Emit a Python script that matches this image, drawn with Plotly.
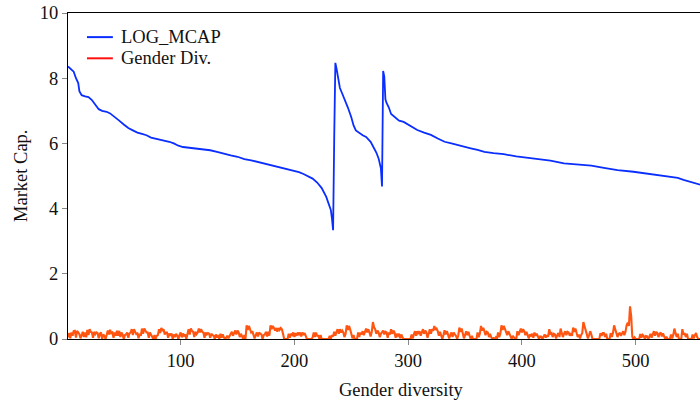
import plotly.graph_objects as go

# ---- LOG_MCAP (read at breakpoints along the x index) ----
mcap_x = [1, 3, 6, 8, 10, 11, 13, 16, 19, 22, 25, 28, 31, 35, 38, 42, 46, 50, 54, 58,
          62, 66, 70, 74, 78, 82, 86, 90, 94, 98, 102, 108, 114, 120, 126, 132, 138, 144,
          150, 156, 162, 168, 174, 180, 186, 192, 198, 204, 208, 212, 216, 220, 224, 228,
          230, 232, 233, 234,
          235, 236, 237, 238, 239, 240, 242, 245, 247, 250, 252, 254, 257, 260, 263, 267,
          270, 272, 274, 275, 276, 277,
          278, 279, 280, 281, 283, 285, 288, 292, 296, 301, 305, 308, 314, 320, 326, 332,
          338, 344, 349, 355, 361, 367, 375, 384, 395, 408, 425, 437, 449, 461, 472, 484,
          498, 513, 528, 537, 542, 551, 557, 560]
mcap_y = [8.36, 8.3, 8.2, 8.0, 7.85, 7.6, 7.48, 7.44, 7.42, 7.33, 7.2, 7.05, 7.0, 6.97, 6.92,
          6.82, 6.7, 6.58, 6.47, 6.4, 6.33, 6.29, 6.25, 6.18, 6.15, 6.13, 6.08, 6.05, 6.0,
          5.93, 5.89, 5.87, 5.85, 5.82, 5.79, 5.74, 5.68, 5.63, 5.59, 5.52, 5.48, 5.43, 5.36,
          5.32, 5.27, 5.21, 5.17, 5.12, 5.06, 5.0, 4.92, 4.8, 4.63, 4.36, 4.12, 3.96, 3.7, 3.34,
          6.2, 8.47, 8.3, 8.1, 7.8, 7.7, 7.53, 7.28, 7.1, 6.8, 6.55, 6.4, 6.31, 6.25, 6.2, 6.05,
          5.85, 5.72, 5.54, 5.4, 5.24, 4.68,
          8.22, 8.05, 7.35, 7.24, 7.1, 6.9, 6.82, 6.7, 6.66, 6.56, 6.48, 6.41, 6.33, 6.26, 6.15,
          6.05, 6.0, 5.94, 5.9, 5.85, 5.8, 5.74, 5.7, 5.67, 5.6, 5.54, 5.47, 5.39, 5.35, 5.32,
          5.25, 5.18, 5.13, 5.06, 5.0, 4.94, 4.88, 4.79, 4.72, 4.7]

# ---- Gender Div. (one value per observation, 1..560) ----
gender_div = [
    0.05, 0.18, 0.02, 0.2, 0.1, 0.24, 0.25, 0.04, 0.25, 0.2, 0.15, 0.02, 0.14, 0.22, 0.06, 0.2,
    0.05, 0.28, 0.12, 0.3, 0.22, 0.2, 0.04, 0.22, 0.15, 0.2, 0.18, 0.02, 0.16, 0.2, 0.0, 0.14,
    0.1, 0.0, 0.12, 0.26, 0.14, 0.28, 0.18, 0.2, 0.04, 0.2, 0.1, 0.25, 0.1, 0.25, 0.06, 0.2,
    0.14, 0.0, 0.12, 0.14, 0.2, 0.04, 0.17, 0.2, 0.3, 0.12, 0.3, 0.22, 0.15, 0.17, 0.02, 0.16,
    0.1, 0.32, 0.16, 0.32, 0.25, 0.2, 0.2, 0.04, 0.2, 0.14, 0.1, 0.0, 0.12, 0.0, 0.1, 0.12,
    0.3, 0.18, 0.34, 0.25, 0.3, 0.14, 0.2, 0.2, 0.04, 0.17, 0.1, 0.17, 0.0, 0.14, 0.06, 0.16,
    0.1, 0.0, 0.12, 0.2, 0.05, 0.17, 0.1, 0.14, 0.0, 0.16, 0.3, 0.14, 0.32, 0.25, 0.22, 0.06,
    0.22, 0.15, 0.2, 0.32, 0.2, 0.3, 0.22, 0.2, 0.04, 0.2, 0.14, 0.18, 0.16, 0.04, 0.16, 0.12,
    0.1, 0.0, 0.14, 0.04, 0.12, 0.0, 0.16, 0.04, 0.14, 0.05, 0.0, 0.04,
    0.1, 0.02, 0.08, 0.12, 0.22, 0.1, 0.22, 0.26, 0.14, 0.26, 0.2, 0.06, 0.16, 0.1, 0.0, 0.12,
    0.0, 0.42, 0.28, 0.4, 0.3, 0.2, 0.24, 0.14, 0.02, 0.12, 0.2, 0.08, 0.2, 0.16, 0.14, 0.0,
    0.12, 0.14, 0.22, 0.08, 0.22, 0.1, 0.42, 0.3, 0.4, 0.34, 0.26, 0.34, 0.22, 0.34, 0.28, 0.34,
    0.3, 0.16, 0.0, 0.0, 0.0, 0.0, 0.16, 0.04, 0.16, 0.12, 0.2, 0.06, 0.18, 0.1, 0.2, 0.14,
    0.2, 0.08, 0.2, 0.12, 0.18, 0.06, 0.0, 0.0, 0.0, 0.0, 0.0, 0.05, 0.2, 0.06, 0.2, 0.1,
    0.1, 0.0, 0.12, 0.0, 0.0, 0.0, 0.0, 0.0, 0.0, 0.0, 0.1, 0.0, 0.12, 0.08, 0.22, 0.1,
    0.22, 0.3, 0.16, 0.3, 0.2, 0.26, 0.2, 0.06, 0.16, 0.42, 0.28, 0.4, 0.3, 0.14, 0.02, 0.12,
    0.0, 0.0, 0.0, 0.2, 0.06, 0.2, 0.14, 0.24, 0.12, 0.22, 0.32, 0.2, 0.3, 0.2, 0.08, 0.22,
    0.52, 0.36, 0.3, 0.16, 0.26, 0.2, 0.06, 0.16, 0.2,
    0.26, 0.14, 0.22, 0.2, 0.04, 0.2, 0.14, 0.3, 0.16, 0.26, 0.2, 0.04, 0.16, 0.1, 0.16, 0.02,
    0.14, 0.05, 0.0, 0.0, 0.0, 0.0, 0.0, 0.0, 0.0, 0.14, 0.02, 0.14, 0.24, 0.1, 0.24, 0.15,
    0.24, 0.1, 0.22, 0.3, 0.16, 0.26, 0.2, 0.04, 0.16, 0.3, 0.16, 0.3, 0.25, 0.4, 0.28, 0.32,
    0.24, 0.1, 0.22, 0.1, 0.0, 0.12, 0.27, 0.14, 0.24, 0.14, 0.02, 0.12, 0.2, 0.06, 0.2, 0.14,
    0.1, 0.0, 0.1, 0.35, 0.22, 0.32, 0.14, 0.02, 0.12, 0.24, 0.12, 0.22, 0.1, 0.0, 0.1, 0.0,
    0.0, 0.0, 0.0, 0.2, 0.06, 0.16, 0.4, 0.26, 0.34, 0.24, 0.12, 0.22, 0.2, 0.06, 0.16, 0.05,
    0.0, 0.03, 0.0, 0.05, 0.0, 0.2, 0.06, 0.16, 0.42, 0.28, 0.4, 0.32, 0.24, 0.12, 0.24, 0.15,
    0.1, 0.0, 0.1, 0.03, 0.0, 0.0, 0.24, 0.12, 0.22, 0.32, 0.2, 0.3, 0.24, 0.12, 0.22, 0.14,
    0.02, 0.14, 0.1, 0.16, 0.04, 0.2, 0.1, 0.16, 0.1, 0.0, 0.08,
    0.07, 0.0, 0.08, 0.14, 0.04, 0.12, 0.07, 0.3, 0.16, 0.18, 0.06, 0.16, 0.14, 0.02, 0.12, 0.18,
    0.06, 0.32, 0.18, 0.06, 0.16, 0.24, 0.12, 0.22, 0.2, 0.1, 0.18, 0.1, 0.35, 0.22, 0.32, 0.18,
    0.06, 0.14, 0.02, 0.12, 0.18, 0.52, 0.4, 0.3, 0.14, 0.02, 0.12, 0.24, 0.14, 0.0, 0.0, 0.0,
    0.0, 0.0, 0.0, 0.0, 0.18, 0.1, 0.18, 0.18, 0.06, 0.16, 0.0, 0.0, 0.0, 0.18, 0.06, 0.18,
    0.42, 0.3, 0.18, 0.06, 0.16, 0.18, 0.1, 0.16, 0.24, 0.12, 0.22, 0.42, 0.5, 0.4, 1.0, 0.7,
    0.07, 0.0, 0.05, 0.0, 0.0, 0.0, 0.0, 0.15, 0.04, 0.13, 0.1, 0.0, 0.09, 0.08, 0.0, 0.07,
    0.16, 0.04, 0.15, 0.24, 0.1, 0.22, 0.18, 0.06, 0.16, 0.2, 0.08, 0.17, 0.08, 0.0, 0.07, 0.0,
    0.0, 0.0, 0.14, 0.02, 0.12, 0.32, 0.18, 0.06, 0.16, 0.0, 0.0, 0.0, 0.3, 0.14, 0.18, 0.06,
    0.16, 0.0, 0.0, 0.0, 0.0, 0.14, 0.02, 0.12, 0.18, 0.06, 0.0, 0.0, 0.0, 0.0, 0.0, 0.0,
]
obs = list(range(1, len(gender_div) + 1))

x_ticks = [100, 200, 300, 400, 500]
y_ticks = [0, 2, 4, 6, 8, 10]
legend_names = ["LOG_MCAP", "Gender Div."]

BLUE = "#0A2EFF"
ORANGE = "#FF5510"
LEG_RED = "#FF1010"
FONT = "Liberation Serif, Times New Roman, serif"
TXT = "#111111"
F = dict(family=FONT, size=18.5, color=TXT)

fig = go.Figure()
fig.add_trace(go.Scatter(x=obs, y=gender_div, mode="lines", showlegend=False,
                         line=dict(color=ORANGE, width=2.1)))
fig.add_trace(go.Scatter(x=mcap_x, y=mcap_y, mode="lines", showlegend=False,
                         line=dict(color=BLUE, width=1.8)))

# legend drawn in paper coordinates (compact spacing as in the original)
leg_colors = [BLUE, LEG_RED]
leg_y = [0.926, 0.861]
shapes = []
annotations = []
for name, col, yy in zip(legend_names, leg_colors, leg_y):
    shapes.append(dict(type="line", xref="paper", yref="paper", x0=0.030, x1=0.071,
                       y0=yy, y1=yy, line=dict(color=col, width=2)))
    annotations.append(dict(text=name, xref="paper", yref="paper", x=0.080, y=yy,
                            xanchor="left", yanchor="middle", showarrow=False, font=F))

annotations += [
    dict(text="Gender diversity", xref="paper", yref="paper", x=0.527, y=-0.156,
         xanchor="center", yanchor="middle", showarrow=False, font=F),
    dict(text="Market Cap.", xref="paper", yref="paper", x=-0.0744, y=0.5,
         xanchor="center", yanchor="middle", showarrow=False, textangle=-90, font=F),
]

fig.update_layout(
    width=700, height=404,
    margin=dict(l=68, r=0, t=13, b=65),
    paper_bgcolor="white", plot_bgcolor="white",
    font=F,
    showlegend=False,
    xaxis=dict(range=[1, 556.5], tickvals=x_ticks, ticks="outside", ticklen=5,
               tickcolor="#888888", tickwidth=1.2, showline=True, linecolor="black",
               linewidth=1.3, mirror=True, showgrid=False, zeroline=False,
               tickfont=F),
    yaxis=dict(range=[0, 10], tickvals=y_ticks, ticks="outside", ticklen=5,
               tickcolor="#888888", tickwidth=1.2, showline=True, linecolor="black",
               linewidth=1.3, showgrid=False, zeroline=False, tickfont=F),
    shapes=shapes,
    annotations=annotations,
)

fig.write_html("out.html")
